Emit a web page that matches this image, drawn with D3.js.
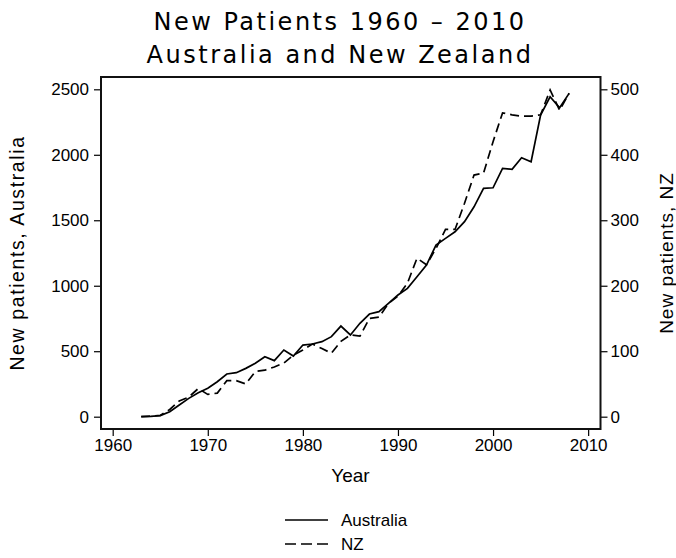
<!DOCTYPE html>
<html>
<head>
<meta charset="utf-8">
<script src="https://cdn.jsdelivr.net/npm/d3@7"></script>
<style>
  body { margin: 0; background: #fff; }
  text { font-family: "Liberation Sans", Arial, sans-serif; fill: #000; }
  .title { font-family: "DejaVu Sans", sans-serif; font-size: 24px; letter-spacing: 2.5px; }
</style>
</head>
<body>
<div id="vis"></div>
<script>
// data
let years = d3.range(1963, 2009)
let australia = [0, 2, 8, 38, 89, 140, 183, 217, 267, 326, 336, 369, 408, 458,
  428, 509, 463, 547, 555, 573, 611, 692, 624, 713, 784, 802, 866, 929, 980,
  1069, 1158, 1311, 1362, 1412, 1489, 1603, 1744, 1748, 1896, 1889, 1977, 1947,
  2303, 2443, 2359, 2469]
let nz = [0, 1, 2, 11, 24, 30, 43, 34, 36, 55, 55, 50, 69, 71,
  76, 82, 94, 102, 111, 104, 97, 115, 125, 123, 150, 152, 173, 184, 204,
  242, 232, 257, 286, 286, 326, 369, 372, 420, 464, 461, 459, 459,
  461, 499, 468, 494]
let xTicks = [1960, 1970, 1980, 1990, 2000, 2010]
let ausTicks = [0, 500, 1000, 1500, 2000, 2500]
let nzTicks = [0, 100, 200, 300, 400, 500]

let W = 676, H = 558
let plot = { left: 101, right: 600.5, top: 77, bottom: 429 }

let svg = d3.select('#vis')
  .append('svg')
  .attr('width', W)
  .attr('height', H)

let x = d3.scaleLinear().domain([1958.77, 2011.3]).range([plot.left, plot.right])
let yA = d3.scaleLinear().domain([-94, 2594]).range([plot.bottom, plot.top])
let yN = d3.scaleLinear().domain([-18.8, 518.8]).range([plot.bottom, plot.top])

// titles
svg.append('text').attr('class', 'title')
  .attr('x', 340).attr('y', 30).attr('text-anchor', 'middle')
  .text('New Patients  1960 \u2013 2010')
svg.append('text').attr('class', 'title')
  .attr('x', 340).attr('y', 63).attr('text-anchor', 'middle')
  .text('Australia and New Zealand')

// axes
let fmt = d3.format('d')
let gx = svg.append('g')
  .attr('transform', 'translate(0,' + plot.bottom + ')')
  .call(d3.axisBottom(x).tickValues(xTicks).tickFormat(fmt).tickSize(7).tickPadding(3))
let gl = svg.append('g')
  .attr('transform', 'translate(' + plot.left + ',0)')
  .call(d3.axisLeft(yA).tickValues(ausTicks).tickFormat(fmt).tickSize(7).tickPadding(5))
let gr = svg.append('g')
  .attr('transform', 'translate(' + plot.right + ',0)')
  .call(d3.axisRight(yN).tickValues(nzTicks).tickFormat(fmt).tickSize(7).tickPadding(3))
;[gx, gl, gr].forEach(function (g) {
  g.select('.domain').remove()
  g.selectAll('.tick line').attr('stroke', '#000').attr('stroke-width', 1.2)
  g.selectAll('.tick text').style('font-size', '17px').attr('fill', '#000')
    .style('font-family', '"Liberation Sans", Arial, sans-serif')
})

// frame
svg.append('rect')
  .attr('x', plot.left).attr('y', plot.top)
  .attr('width', plot.right - plot.left).attr('height', plot.bottom - plot.top)
  .attr('fill', 'none').attr('stroke', '#111').attr('stroke-width', 2)

// axis titles
svg.append('text').attr('x', x(1985)).attr('y', 482)
  .attr('text-anchor', 'middle').style('font-size', '19px').text('Year')
svg.append('text').attr('transform', 'translate(24,' + yA(1250) + ') rotate(-90)')
  .attr('text-anchor', 'middle').style('font-size', '19.5px').style('letter-spacing', '1.6px')
  .text('New patients, Australia')
svg.append('text').attr('transform', 'translate(673,' + yA(1250) + ') rotate(-90)')
  .attr('text-anchor', 'middle').style('font-size', '19px').style('letter-spacing', '1px')
  .text('New patients, NZ')

// lines
let lineA = d3.line().x(function (d, i) { return x(years[i]) }).y(function (d) { return yA(d) })
let lineN = d3.line().x(function (d, i) { return x(years[i]) }).y(function (d) { return yN(d) })
svg.append('path').datum(australia).attr('d', lineA)
  .attr('fill', 'none').attr('stroke', '#000').attr('stroke-width', 1.7)
svg.append('path').datum(nz).attr('d', lineN)
  .attr('fill', 'none').attr('stroke', '#000').attr('stroke-width', 1.7)
  .attr('stroke-dasharray', '9,5')

// legend
let legend = [{ name: 'Australia', dash: null }, { name: 'NZ', dash: '11,5' }]
let lg = svg.selectAll('.leg').data(legend).enter().append('g')
  .attr('transform', function (d, i) { return 'translate(285,' + (520 + i * 24) + ')' })
lg.append('line').attr('x1', 0).attr('x2', 43).attr('y1', 0).attr('y2', 0)
  .attr('stroke', '#000').attr('stroke-width', 1.7)
  .attr('stroke-dasharray', function (d) { return d.dash })
lg.append('text').attr('x', 56).attr('y', 6).style('font-size', '17px')
  .text(function (d) { return d.name })
</script>
</body>
</html>
